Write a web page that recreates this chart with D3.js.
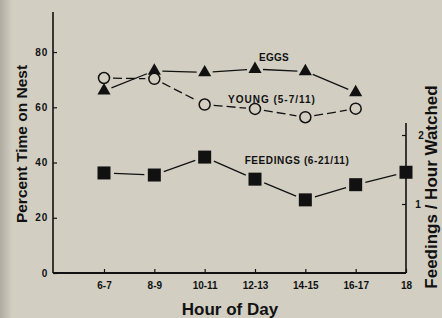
<!DOCTYPE html>
<html>
<head>
<meta charset="utf-8">
<script src="https://cdn.jsdelivr.net/npm/d3@7"></script>
<style>
  html, body { margin: 0; padding: 0; background: #d2cec2; }
  svg { display: block; font-family: "Liberation Sans", Arial, Helvetica, sans-serif; }
</style>
</head>
<body>
<script>
/* ---------------------- Data ---------------------- */
var hours = ["6-7", "8-9", "10-11", "12-13", "14-15", "16-17", "18"];
var eggs = [66, 73.2, 72.6, 73.8, 73, 65.4];          // percent time on nest
var young = [70.6, 70.3, 61, 59.4, 56.4, 59.5];       // percent time on nest
var feedings = [1.45, 1.42, 1.68, 1.36, 1.06, 1.28, 1.46]; // feedings / hour
var leftTicks = [0, 20, 40, 60, 80];
var rightTicks = [1, 2];

/* ---------------------- Layout ---------------------- */
var W = 442, H = 318;
var ink = "#111";

var svg = d3.select("body").append("svg")
    .attr("width", W)
    .attr("height", H);

// page background with darker binding strip on the left
var grad = svg.append("defs").append("linearGradient")
    .attr("id", "edge").attr("x1", 0).attr("x2", 1);
grad.append("stop").attr("offset", 0).attr("stop-color", "#aeaba2");
grad.append("stop").attr("offset", 1).attr("stop-color", "#d2cec2");
svg.append("rect").attr("width", W).attr("height", H).attr("fill", "#d2cec2");
svg.append("rect").attr("width", 12).attr("height", H).attr("fill", "url(#edge)");

// Scales
var x = d3.scalePoint().domain(hours).range([104, 406]);
var yL = d3.scaleLinear().domain([0, 94.5]).range([273, 12]);
var yR = d3.scaleLinear().domain([0, 2.174]).range([273, 123]);

// Left axis
var gL = svg.append("g").attr("transform", "translate(53,0)")
    .call(d3.axisRight(yL).tickValues(leftTicks).tickSize(4).tickFormat(d3.format("d")));
gL.select(".domain").remove();
gL.append("line").attr("y1", yL(94.5)).attr("y2", yL(0)).attr("stroke", ink).attr("stroke-width", 1.6);
gL.selectAll(".tick line").attr("stroke", ink).attr("stroke-width", 1.2);
gL.selectAll(".tick text")
    .attr("x", -5).attr("text-anchor", "end")
    .attr("fill", ink).style("font-size", "10px").style("font-weight", "bold")
    .style("letter-spacing", "0.8px");

// Bottom axis
var gB = svg.append("g").attr("transform", "translate(0,273)")
    .call(d3.axisTop(x).tickSize(4));
gB.select(".domain").remove();
gB.append("line").attr("x1", 53).attr("x2", 406).attr("stroke", ink).attr("stroke-width", 1.8);
gB.selectAll(".tick line").attr("stroke", ink).attr("stroke-width", 1.2);
gB.selectAll(".tick text")
    .attr("y", 16).attr("dy", "0")
    .attr("fill", ink).style("font-size", "10px").style("font-weight", "bold");

// Right axis
var gR = svg.append("g").attr("transform", "translate(406,0)")
    .call(d3.axisLeft(yR).tickValues(rightTicks).tickSize(4).tickFormat(d3.format("d")));
gR.select(".domain").remove();
gR.append("line").attr("y1", yR(2.174)).attr("y2", yR(0)).attr("stroke", ink).attr("stroke-width", 1.6);
gR.selectAll(".tick line").attr("stroke", ink).attr("stroke-width", 1.2);
gR.selectAll(".tick text")
    .attr("x", d => d === 2 ? 15 : 12).attr("text-anchor", "middle")
    .attr("fill", ink).style("font-size", "10px").style("font-weight", "bold");

// Lines drawn as segments with small gaps near the markers
function segments(vals, y, gap, dash) {
    var pts = vals.map((v, i) => [x(hours[i]), y(v)]);
    var g = svg.append("g");
    for (var i = 0; i < pts.length - 1; i++) {
        var a = pts[i], b = pts[i + 1];
        var dx = b[0] - a[0], dy = b[1] - a[1], L = Math.sqrt(dx * dx + dy * dy);
        var ux = dx / L, uy = dy / L;
        g.append("line")
            .attr("x1", a[0] + ux * gap).attr("y1", a[1] + uy * gap)
            .attr("x2", b[0] - ux * gap).attr("y2", b[1] - uy * gap)
            .attr("stroke", ink).attr("stroke-width", 1.3)
            .attr("stroke-dasharray", dash || null);
    }
}

segments(eggs, yL, 8);
segments(young, yL, 9, "9,4");
segments(feedings, yR, 10);

// Markers
var tri = d3.symbol().type(d3.symbolTriangle).size(75);
svg.append("g").selectAll("path")
    .data(eggs).join("path")
    .attr("d", tri)
    .attr("transform", (d, i) => `translate(${x(hours[i])},${yL(d)})`)
    .attr("fill", ink);

svg.append("g").selectAll("circle")
    .data(young).join("circle")
    .attr("cx", (d, i) => x(hours[i]))
    .attr("cy", d => yL(d))
    .attr("r", 5.5)
    .attr("fill", "#d2cec2")
    .attr("stroke", ink).attr("stroke-width", 1.5);

svg.append("g").selectAll("rect")
    .data(feedings).join("rect")
    .attr("x", (d, i) => x(hours[i]) - 6.5)
    .attr("y", d => yR(d) - 6.5)
    .attr("width", 13).attr("height", 13)
    .attr("fill", ink);

// Series labels
var labels = svg.append("g")
    .attr("fill", ink).style("font-size", "10px").style("font-weight", "bold");
labels.append("text").attr("x", 274).attr("y", 61).attr("text-anchor", "middle")
    .style("letter-spacing", "0.3px").text("EGGS");
labels.append("text").attr("x", 272).attr("y", 103).attr("text-anchor", "middle")
    .style("letter-spacing", "1px").text("YOUNG (5-7/11)");
labels.append("text").attr("x", 297).attr("y", 164).attr("text-anchor", "middle")
    .style("letter-spacing", "0.6px").text("FEEDINGS (6-21/11)");

// Axis titles
svg.append("text")
    .attr("transform", "translate(27,144) rotate(-90)")
    .attr("text-anchor", "middle")
    .attr("fill", ink).style("font-size", "15.5px").style("font-weight", "bold")
    .text("Percent Time on Nest");

svg.append("text")
    .attr("transform", "translate(437,187) rotate(-90)")
    .attr("text-anchor", "middle")
    .attr("fill", ink).style("font-size", "17px").style("font-weight", "bold")
    .text("Feedings / Hour Watched");

svg.append("text")
    .attr("x", 230).attr("y", 315)
    .attr("text-anchor", "middle")
    .attr("fill", ink).style("font-size", "17px").style("font-weight", "bold")
    .text("Hour of Day");
</script>
</body>
</html>
